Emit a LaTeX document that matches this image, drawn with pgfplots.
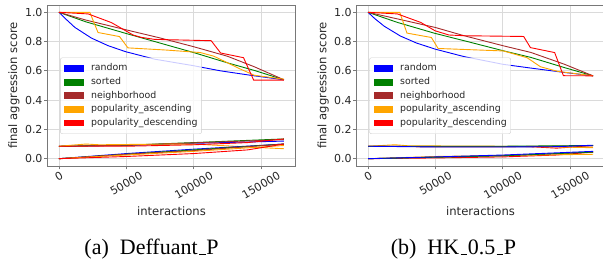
\documentclass[border=0pt]{standalone}
\usepackage{fontspec}
\setmainfont{Liberation Serif}
\newfontfamily\dv{DejaVu Sans}
\usepackage{pgfplots}
\pgfplotsset{compat=1.18}
\definecolor{mblue}{RGB}{0,0,255}
\definecolor{mgreen}{RGB}{0,128,0}
\definecolor{mbrown}{RGB}{165,42,42}
\definecolor{morange}{RGB}{255,165,0}
\definecolor{mred}{RGB}{255,0,0}
\definecolor{gridc}{RGB}{218,218,218}
\definecolor{spinec}{RGB}{120,120,120}
\definecolor{txt}{RGB}{38,38,38}
\definecolor{legedge}{RGB}{204,204,204}
\newcommand\us{\kern.06em\vbox{\hrule height 1pt width .3em}\kern.03em}
\pgfplotsset{myax/.style={
  scale only axis, width=247.5pt, height=161pt, anchor=south west,
  xmin=-8350, xmax=175350, ymin=-0.05, ymax=1.05,
  scaled x ticks=false, scaled y ticks=false,
  xtick={0,50000,100000,150000},
  xticklabels={\rotatebox{30}{0},\rotatebox{30}{50000},\rotatebox{30}{100000},\rotatebox{30}{150000}},
  ytick={0,0.2,0.4,0.6,0.8,1.0},
  yticklabels={0.0,0.2,0.4,0.6,0.8,1.0},
  grid=major, major grid style={gridc, line width=0.8pt},
  axis line style={spinec, line width=0.8pt},
  tick align=outside, major tick length=3.5pt, tick style={spinec, line width=0.8pt},
  xtick pos=lower, ytick pos=left,
  ticklabel style={font=\dv\fontsize{11}{13}\selectfont, text=txt},
  xticklabel style={anchor=north, inner sep=1.5pt},
  yticklabel style={inner sep=1.5pt},
  label style={font=\dv\fontsize{11.6}{13}\selectfont, text=txt},
  xlabel={interactions}, ylabel={final aggression score},
  xlabel style={at={(axis description cs:0.5,-0.2795)}, anchor=center},
  ylabel style={at={(axis description cs:-0.136,0.5)}, anchor=center},
  legend style={at={(axis description cs:0.0505,0.199)}, anchor=south west,
    font=\dv\fontsize{9.4}{11}\selectfont, text=txt, draw=legedge, fill=white,
    fill opacity=0.8, text opacity=1, rounded corners=2pt,
    inner xsep=4pt, inner ysep=6.3pt, row sep=4.6pt,
    nodes={inner sep=0pt, text height=6.8pt, text depth=2.2pt}},
  legend cell align=left,
  legend image code/.code={\fill[#1, draw=none, fill opacity=1, sharp corners] (0pt,-3.4pt) rectangle (19.3pt,3.4pt); \path[draw=none, fill=none] (0pt,0pt) -- (26.7pt,0pt);},
  every axis plot/.append style={line width=0.9pt, mark=none},
}}
\begin{document}
\begin{tikzpicture}
\useasboundingbox (0,0) rectangle (603pt,262pt);
% ---------------- (a) Deffuant_P ----------------
\begin{axis}[myax, at={(47.7pt,96pt)}]
\addplot[color=mblue] coordinates {(0,1.0) (5000,0.955) (11800,0.897) (24100,0.824) (36500,0.772) (49500,0.731) (71000,0.680) (100000,0.635) (120000,0.600) (145000,0.566) (167000,0.539)};
\addlegendentry{random}
\addplot[color=mgreen] coordinates {(0,1.0) (20000,0.935) (50000,0.855) (75000,0.79) (100000,0.725) (125000,0.655) (145000,0.603) (167000,0.539)};
\addlegendentry{sorted}
\addplot[color=mbrown] coordinates {(0,1.0) (20000,0.947) (50000,0.88) (75000,0.825) (100000,0.765) (125000,0.70) (145000,0.628) (167000,0.539)};
\addlegendentry{neighborhood}
\addplot[color=morange] coordinates {(0,1.0) (22900,1.0) (29000,0.862) (40000,0.843) (45000,0.834) (51200,0.757) (80000,0.742) (105000,0.725) (115000,0.70) (124000,0.66) (134000,0.615) (145000,0.57) (167000,0.543)};
\addlegendentry{popularity\_ascending}
\addplot[color=mred] coordinates {(0,1.0) (21700,0.989) (38900,0.930) (49500,0.874) (55000,0.845) (61100,0.829) (71000,0.815) (113000,0.806) (120000,0.722) (137000,0.69) (144500,0.537) (167000,0.537)};
\addlegendentry{popularity\_descending}
% bottom bundles
\addplot[color=mblue, forget plot] coordinates {(0,0.085) (50000,0.09) (100000,0.105) (167000,0.12)};
\addplot[color=mgreen, forget plot] coordinates {(0,0.085) (50000,0.092) (100000,0.11) (167000,0.135)};
\addplot[color=mbrown, forget plot] coordinates {(0,0.085) (50000,0.092) (100000,0.108) (167000,0.13)};
\addplot[color=morange, forget plot] coordinates {(0,0.085) (20000,0.10) (30000,0.095) (60000,0.098) (100000,0.10) (140000,0.08) (167000,0.068)};
\addplot[color=mred, forget plot] coordinates {(0,0.085) (50000,0.085) (100000,0.095) (140000,0.11) (167000,0.135)};
\addplot[color=mblue, forget plot] coordinates {(0,0) (50000,0.035) (100000,0.065) (167000,0.10)};
\addplot[color=mgreen, forget plot] coordinates {(0,0) (50000,0.03) (100000,0.06) (167000,0.10)};
\addplot[color=mbrown, forget plot] coordinates {(0,0) (50000,0.03) (100000,0.055) (167000,0.10)};
\addplot[color=morange, forget plot] coordinates {(0,0) (50000,0.025) (100000,0.05) (167000,0.09)};
\addplot[color=mred, forget plot] coordinates {(0,0) (50000,0.015) (100000,0.035) (140000,0.06) (167000,0.10)};
\end{axis}
% ---------------- (b) HK_0.5_P ----------------
\begin{axis}[myax, at={(356.8pt,96pt)}]
\addplot[color=mblue] coordinates {(0,1.0) (5000,0.957) (12000,0.905) (24000,0.838) (36000,0.79) (50000,0.748) (71000,0.698) (100000,0.645) (120000,0.62) (145000,0.59) (167000,0.566)};
\addlegendentry{random}
\addplot[color=mgreen] coordinates {(0,1.0) (21800,0.931) (49700,0.856) (71300,0.806) (100500,0.737) (120800,0.692) (145500,0.623) (167000,0.566)};
\addlegendentry{sorted}
\addplot[color=mbrown] coordinates {(0,1.0) (21800,0.955) (49700,0.897) (71300,0.840) (100500,0.771) (120800,0.726) (145500,0.646) (167000,0.566)};
\addlegendentry{neighborhood}
\addplot[color=morange] coordinates {(0,1.0) (23500,1.0) (28900,0.858) (47000,0.828) (52000,0.753) (100500,0.736) (118000,0.69) (128000,0.628) (140500,0.597) (167000,0.566)};
\addlegendentry{popularity\_ascending}
\addplot[color=mred] coordinates {(0,1.0) (21800,0.989) (39100,0.931) (49700,0.874) (60000,0.845) (71300,0.840) (115500,0.835) (120500,0.759) (138500,0.725) (145000,0.567) (167000,0.566)};
\addlegendentry{popularity\_descending}
\addplot[color=mred, forget plot] coordinates {(0,0.085) (50000,0.082) (120000,0.082) (140000,0.072) (167000,0.09)};
\addplot[color=morange, forget plot] coordinates {(0,0.085) (20000,0.095) (30000,0.088) (100000,0.085) (140000,0.08) (167000,0.075)};
\addplot[color=mbrown, forget plot] coordinates {(0,0.085) (50000,0.082) (100000,0.082) (167000,0.088)};
\addplot[color=mgreen, forget plot] coordinates {(0,0.085) (50000,0.085) (100000,0.085) (167000,0.09)};
\addplot[color=mblue, forget plot] coordinates {(0,0.085) (50000,0.08) (100000,0.08) (140000,0.082) (167000,0.092)};
\addplot[color=mred, forget plot] coordinates {(0,0) (50000,0.005) (100000,0.012) (140000,0.025) (167000,0.045)};
\addplot[color=morange, forget plot] coordinates {(0,0) (50000,0.015) (100000,0.022) (167000,0.03)};
\addplot[color=mbrown, forget plot] coordinates {(0,0) (50000,0.01) (100000,0.02) (167000,0.045)};
\addplot[color=mgreen, forget plot] coordinates {(0,0) (50000,0.01) (100000,0.02) (167000,0.045)};
\addplot[color=mblue, forget plot] coordinates {(0,0) (50000,0.012) (100000,0.025) (167000,0.05)};
\end{axis}
\node[anchor=base, font=\fontsize{22}{26}\selectfont] at (151.5pt,7pt) {(a)\hspace{0.5em}Deffuant\us P};
\node[anchor=base, font=\fontsize{22}{26}\selectfont] at (453.5pt,7pt) {(b)\hspace{0.5em}HK\us 0.5\us P};
\end{tikzpicture}
\end{document}
